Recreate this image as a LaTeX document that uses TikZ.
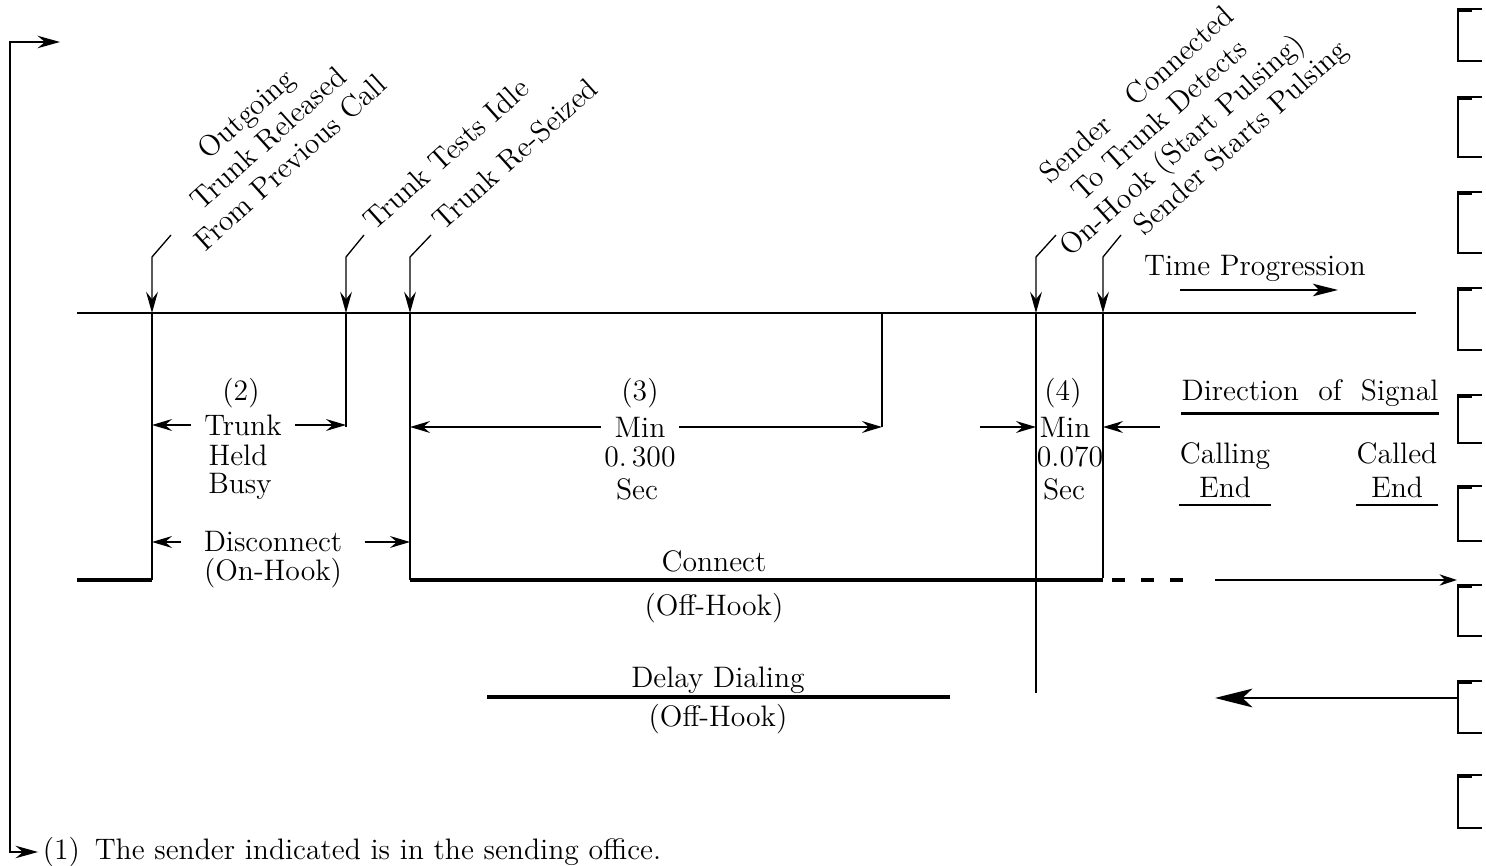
\documentclass[tikz,border=0pt]{standalone}
\usepackage{fontspec}
\usepackage{tikz}
\usetikzlibrary{arrows.meta,positioning,calc}

\begin{document}
\begin{tikzpicture}[
    x=0.016cm, y=-0.016cm,
    every node/.style={font=\fontsize{13.5}{15.5}\selectfont, inner sep=2pt},
    rotlabel/.style={rotate=42, align=center, font=\fontsize{13.5}{15}\selectfont},
    markline/.style={line width=0.6pt},
    leader/.style={line width=0.6pt, -{Stealth[length=3.4mm, width=1.9mm, inset=1.2mm]}},
    dimarrow/.style={line width=0.6pt, -{Stealth[length=3.2mm, width=1.9mm, inset=1.1mm]}},
    heavyline/.style={line width=1.8pt},
    uline/.style={line width=1pt},
    gap/.style={inner xsep=6pt},
    hdr/.style={inner xsep=0pt, inner ysep=3pt}
]
    \useasboundingbox (0,0) rectangle (1486,866);

    % time line and the events on it
    \coordinate (tl0) at (77,313);
    \coordinate (tl1) at (1416,313);
    \draw[line width=0.9pt] (tl0) -- (tl1);

    \coordinate (a0) at (152,313);
    \coordinate (b0) at (346,313);
    \coordinate (c0) at (410,313);
    \coordinate (d0) at (882,313);
    \coordinate (e0) at (1036,313);
    \coordinate (f0) at (1103,313);

    % slanted event labels
    \node[rotlabel] (released) at (268,138) {Outgoing\\Trunk Released\\From Previous Call};
    \node[rotlabel] (idle) at (446,154) {Trunk Tests Idle};
    \node[rotlabel] (seized) at (515,154) {Trunk Re-Seized};
    \node[rotlabel, font=\fontsize{13.5}{15.5}\selectfont] (connected) at (1161,122) {Sender\quad Connected\\To Trunk Detects\\On-Hook (Start Pulsing)};
    \node[rotlabel] (starts) at (1242,139) {Sender Starts Pulsing};

    % leaders from the labels down to the time line
    \foreach \n/\x/\r in {a/152/171, b/346/364, c/410/431, e/1036/1056, f/1103/1121} {
        \coordinate (\n1) at (\r,235);
        \coordinate (\n2) at (\x,257);
        \draw[leader] (\n1) -- (\n2) -- (\n0);
    }

    % verticals below the time line
    \coordinate (aL) at (152,580);
    \coordinate (bB) at (346,427);
    \coordinate (cL) at (410,580);
    \coordinate (dB) at (882,427);
    \coordinate (eB) at (1036,693);
    \coordinate (fL) at (1103,578);
    \draw[markline] (a0) -- (aL);
    \draw[markline] (b0) -- (bB);
    \draw[markline] (c0) -- (cL);
    \draw[markline] (d0) -- (dB);
    \draw[markline] (e0) -- (eB);
    \draw[markline] (f0) -- (fL);

    % signal line
    \coordinate (lo0) at (77,580);
    \coordinate (fH) at (1103,580);
    \coordinate (ds0) at (1112,580);
    \coordinate (ds1) at (1188,580);
    \draw[heavyline] (lo0) -- (aL);
    \draw[heavyline] (cL) -- (fH);
    \draw[heavyline, dash pattern=on 5.9pt off 7.3pt] (ds0) -- (ds1);

    % (2) trunk held busy
    \node (lbl2) at (241,393) {(2)};
    \node[gap] (trunk) at (243,425) {Trunk};
    \node (held) at (238,455) {Held};
    \node (busy) at (240,486) {Busy};
    \draw[dimarrow] (trunk.west) -- (a0 |- trunk.west);
    \draw[dimarrow] (trunk.east) -- (b0 |- trunk.east);

    \node[inner xsep=10pt] (disc) at (273,542) {Disconnect};
    \node (onhook) at (273,573) {(On-Hook)};
    \draw[dimarrow] (disc.west) -- (a0 |- disc.west);
    \draw[dimarrow] (disc.east) -- (c0 |- disc.east);

    % (3) min 0.300 sec
    \node (lbl3) at (640,393) {(3)};
    \node[gap] (min3) at (640,427) {Min};
    \node (val3) at (640,457) {0.\,300};
    \node (sec3) at (637,489) {Sec};
    \draw[dimarrow] (min3.west) -- (c0 |- min3.west);
    \draw[dimarrow] (min3.east) -- (d0 |- min3.east);

    % (4) min 0.070 sec
    \node (lbl4) at (1063,393) {(4)};
    \node (min4) at (1065,427) {Min};
    \node[inner sep=0pt] (val4) at (1070,457) {0.070};
    \node (sec4) at (1064,489) {Sec};
    \coordinate (m4a) at (980,427);
    \coordinate (m4b) at (1160,427);
    \draw[dimarrow] (m4a) -- (e0 |- m4a);
    \draw[dimarrow] (m4b) -- (f0 |- m4b);

    % connect / delay dialing
    \node (conn) at (714,561) {Connect};
    \node (offhook1) at (714,608) {(Off-Hook)};
    \coordinate (dd0) at (487,697);
    \coordinate (dd1) at (950,697);
    \draw[heavyline] (dd0) -- (dd1);
    \node (delay) at (718,680) {Delay Dialing};
    \node (offhook2) at (718,719) {(Off-Hook)};

    % time progression
    \node (tprog) at (1255,268) {Time Progression};
    \coordinate (tp0) at (1180,290);
    \coordinate (tp1) at (1338,290);
    \draw[line width=1.1pt, -{Stealth[length=4mm, width=2mm, inset=1mm]}] (tp0) -- (tp1);

    % direction of signal key
    \node[hdr] (dir) at (1310,393) {Direction\ \ of\ \ Signal};
    \draw[uline] (dir.south west) -- (dir.south east);
    \node[hdr, align=center] (calling) at (1225,470) {Calling\\End};
    \draw[uline] (calling.south west) -- (calling.south east);
    \node[hdr, align=center] (called) at (1397,470) {Called\\End};
    \draw[uline] (called.south west) -- (called.south east);

    \coordinate (sg0) at (1215,580);
    \coordinate (sg1) at (1457,580);
    \draw[line width=0.8pt, -{Stealth[length=2.8mm, width=1.8mm]}] (sg0) -- (sg1);
    \coordinate (rt0) at (1458,698);
    \coordinate (rt1) at (1215,698);
    \draw[line width=1pt, -{Stealth[length=6mm, width=3mm, inset=1.6mm]}] (rt0) -- (rt1);

    % note (1)
    \node[anchor=west] (note) at (38,852) {(1)\enspace The sender indicated is in the sending office.};
    \coordinate (brA) at (60,42);
    \coordinate (brT) at (10,42);
    \coordinate (brB) at (10,852);
    \draw[line width=0.8pt, {Stealth[length=3.6mm, width=2mm, inset=1.2mm]}-{Stealth[length=3.6mm, width=2mm, inset=1.2mm]}] (brA) -- (brT) -- (brB) -- (note.west);

    % page tabs along the right edge
    \foreach \t/\b in {9/61, 97/157, 192/253, 288/350, 395/443, 486/541, 585/636, 681/733, 775/828} {
        \draw[line width=0.6pt] (1482,\t) -- (1458,\t) -- (1458,\b) -- (1482,\b);
        \draw[line width=1.8pt] (1459,\t+1) -- (1472,\t+1);
    }
\end{tikzpicture}
\end{document}
